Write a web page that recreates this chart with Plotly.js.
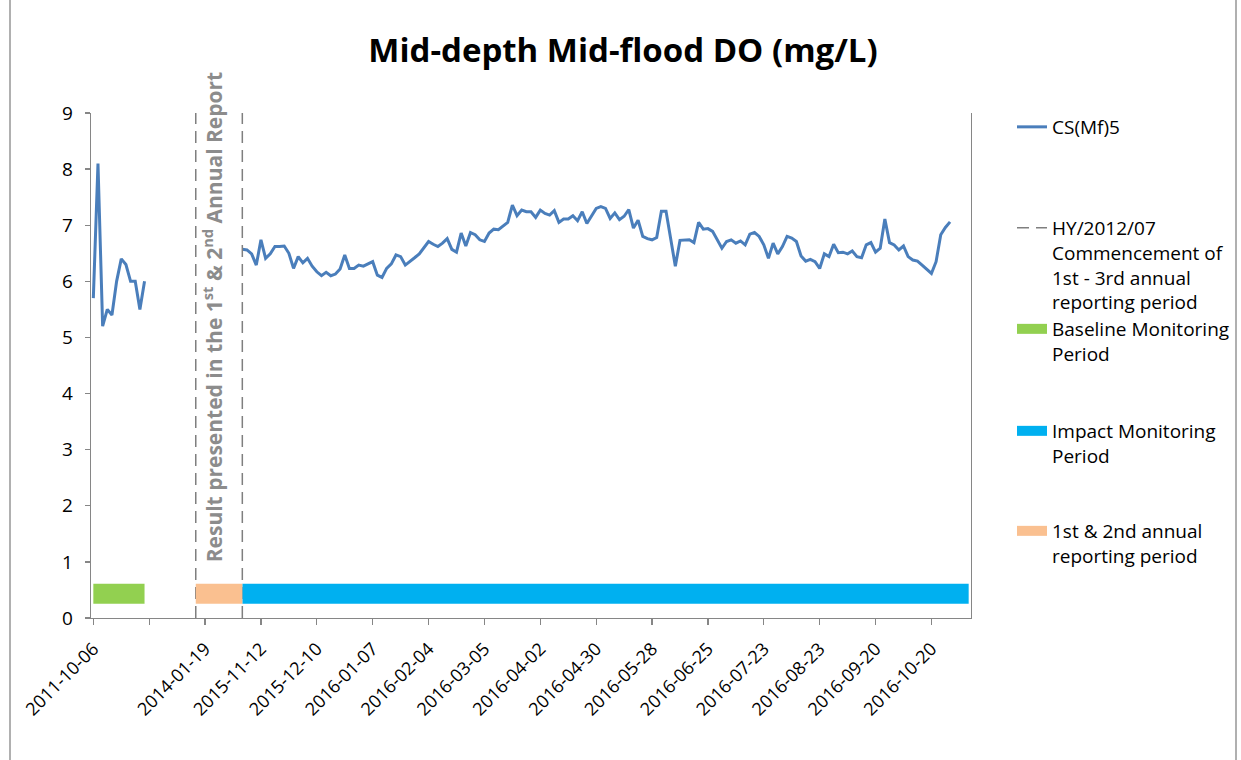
<!DOCTYPE html>
<html><head><meta charset="utf-8">
<script src="https://cdn.plot.ly/plotly-3.0.1.min.js"></script>
<style>html,body{margin:0;padding:0;background:#fff;} #chart{width:1241px;height:760px;}</style>
</head><body><div id="chart"></div>
<script>
// ---- data ----
const categoryCount = 189;
const tickEvery = 12;
const tickCategories = [0, 24, 36, 48, 60, 72, 84, 96, 108, 120, 132, 144, 156, 168, 180];
const tickLabels = ["2011-10-06","2014-01-19","2015-11-12","2015-12-10","2016-01-07","2016-02-04","2016-03-05","2016-04-02","2016-04-30","2016-05-28","2016-06-25","2016-07-23","2016-08-23","2016-09-20","2016-10-20"];
const seriesName = "CS(Mf)5";
const baselineStart = 0;
const baselineDO = [5.7,8.1,5.2,5.5,5.4,6.0,6.4,6.3,6.0,6.0,5.5,6.0];
const impactStart = 32;
const impactDO = [
  6.57,6.56,6.49,6.29,6.74,6.41,6.49,6.62,6.62,6.63,
  6.50,6.23,6.44,6.33,6.41,6.27,6.17,6.10,6.16,6.10,
  6.13,6.22,6.47,6.23,6.23,6.29,6.27,6.31,6.35,6.11,
  6.07,6.23,6.31,6.47,6.44,6.29,6.35,6.42,6.49,
  6.59,6.71,6.66,6.62,6.68,6.76,6.57,6.52,6.86,6.63,
  6.87,6.83,6.74,6.71,6.86,6.93,6.92,6.99,7.05,7.36,
  7.17,7.27,7.24,7.24,7.14,7.27,7.21,7.18,7.26,7.05,
  7.11,7.11,7.17,7.08,7.24,7.03,7.17,7.30,
  7.33,7.30,7.12,7.22,7.10,7.16,7.28,6.95,7.09,6.80,
  6.76,6.74,6.78,7.25,7.25,6.76,6.27,6.73,6.74,6.74,
  6.69,7.05,6.93,6.94,6.89,6.74,6.59,6.71,6.74,6.68,
  6.72,6.65,6.84,6.87,6.80,6.65,6.41,6.68,6.49,
  6.62,6.80,6.77,6.71,6.45,6.36,6.39,6.35,6.23,6.49,
  6.44,6.66,6.51,6.52,6.49,6.54,6.44,6.42,6.65,6.69,
  6.52,6.59,7.11,6.69,6.65,6.56,6.63,6.44,6.38,6.36,
  6.29,6.22,6.14,6.35,6.83,6.96,7.06
];
const commencementCats = [22, 32];
const commencementName = "HY/2012/07<br>Commencement of<br>1st - 3rd annual<br>reporting period";
const baselinePeriod = [0, 11];
const impactPeriod = [32, 188];
const annualPeriod = [22, 32];
const periodLevel = 0.43;
const yMin = 0, yMax = 9;

// ---- build ----
const doX = [], doY = [];
baselineDO.forEach((v,k)=>{doX.push(baselineStart+k); doY.push(v);});
doX.push(null); doY.push(null);
impactDO.forEach((v,k)=>{doX.push(impactStart+k); doY.push(v);});

const dashX = [], dashY = [];
commencementCats.forEach((c,k)=>{ if(k) {dashX.push(null); dashY.push(null);} dashX.push(c,c); dashY.push(yMin,yMax); });

const FONT = 'Open Sans, Liberation Sans, sans-serif';
const traces = [
  {x: doX, y: doY, mode:'lines', name: seriesName, connectgaps:false,
   line:{color:'#4a7ebb', width:3}, legend:'legend'},
  {x: dashX, y: dashY, mode:'lines', name: commencementName,
   line:{color:'#7f7f7f', width:1.5, dash:'12px,7px'}, legend:'legend2'},
  {x: baselinePeriod, y: baselinePeriod.map(()=>periodLevel), mode:'lines', name:'Baseline Monitoring<br>Period',
   line:{color:'#92d050', width:20}, legend:'legend3'},
  {x: impactPeriod, y: impactPeriod.map(()=>periodLevel), mode:'lines', name:'Impact Monitoring<br>Period',
   line:{color:'#00b0f0', width:20}, legend:'legend4'},
  {x: annualPeriod, y: annualPeriod.map(()=>periodLevel), mode:'lines', name:'1st & 2nd annual<br>reporting period',
   line:{color:'#fac090', width:20}, legend:'legend5'}
];

const L = 91, R = 971, T = 113, B = 618, W = 1241, H = 760;
const px2x = p => (p - L)/(R - L);
const px2y = p => (B - p)/(B - T);
const legendBase = {xanchor:'left', yanchor:'top', x: px2x(1012), valign:'top',
  font:{family:FONT, size:19, color:'#000'}, bgcolor:'rgba(0,0,0,0)', borderwidth:0, tracegroupgap:0};

const layout = {
  width: W, height: H, showlegend: true,
  margin:{l:L, r:W-R, t:T, b:H-B, pad:0, autoexpand:false},
  paper_bgcolor:'#fff', plot_bgcolor:'#fff',
  font:{family:FONT, color:'#000'},
  title:{text:'<b>Mid-depth Mid-flood DO (mg/L)</b>', font:{family:FONT, size:33, color:'#000'},
    xref:'container', x:0.502, xanchor:'center', yref:'container', y:1-50/H, yanchor:'middle'},
  xaxis:{range:[-0.5, categoryCount-0.5], tickmode:'array', tickvals:tickCategories, ticktext:tickLabels,
    tickangle:-45, showgrid:false, zeroline:false, showline:true, linecolor:'#868686', linewidth:1.3,
    ticks:'outside', ticklen:6, tickcolor:'#868686', tickwidth:1.3, ticklabelstandoff:6,
    minor:{tick0:0, dtick:tickEvery, ticks:'outside', ticklen:6, tickcolor:'#868686', tickwidth:1.3, showgrid:false},
    tickfont:{family:FONT, size:18, color:'#000'}},
  yaxis:{range:[yMin, yMax], dtick:1, showgrid:false, zeroline:false, showline:true, mirror:true,
    linecolor:'#868686', linewidth:1.3, ticks:'outside', ticklen:5, tickcolor:'#868686', tickwidth:1.3,
    ticklabelstandoff:8, tickfont:{family:FONT, size:19, color:'#000'}},
  legend:{...legendBase, y: px2y(108)},
  legend2:{...legendBase, y: px2y(209)},
  legend3:{...legendBase, y: px2y(310)},
  legend4:{...legendBase, y: px2y(412)},
  legend5:{...legendBase, y: px2y(512)},
  annotations:[{xref:'x', yref:'y', x:25.5, y:5.36, textangle:-90, showarrow:false,
    text:'<b>Result presented in the 1<sup>st</sup> & 2<sup>nd</sup> Annual Report</b>',
    font:{family:FONT, size:21, color:'#8c8c8c'}}],
  shapes:[
    {type:'line', xref:'paper', yref:'paper', x0:px2x(10), x1:px2x(10), y0:px2y(0), y1:px2y(H), line:{color:'#868686', width:1.3}},
    {type:'line', xref:'paper', yref:'paper', x0:px2x(1236), x1:px2x(1236), y0:px2y(0), y1:px2y(H), line:{color:'#868686', width:1.3}}
  ]
};
Plotly.newPlot('chart', traces, layout, {displayModeBar:false, staticPlot:true});
</script>
</body></html>
